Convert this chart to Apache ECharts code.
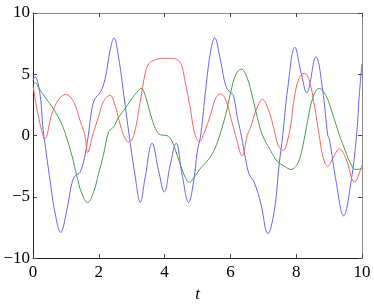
<!DOCTYPE html>
<html>
<head>
<meta charset="utf-8">
<script src="https://cdn.jsdelivr.net/npm/echarts@6/dist/echarts.min.js"></script>
<style>html,body{margin:0;padding:0;background:#fff}#c{width:374px;height:308px}</style>
</head>
<body>
<div id="c"></div>
<script>
var xTicks = [0, 2, 4, 6, 8, 10];
var yTicks = [-10, -5, 0, 5, 10];
var xName = 't';

var tBlue = [0, 0.06, 0.2, 0.31, 0.36, 0.52, 0.67, 0.84, 1.02, 1.18, 1.28, 1.43, 1.58, 1.68, 1.78, 1.88, 2.04, 2.19, 2.34, 2.46, 2.6, 2.76, 2.93, 3.11, 3.26, 3.41, 3.62, 3.82, 3.99, 4.17, 4.35, 4.53, 4.73, 4.89, 4.99, 5.1, 5.25, 5.4, 5.52, 5.7, 5.86, 6.0, 6.09, 6.21, 6.34, 6.46, 6.57, 6.72, 6.92, 7.14, 7.33, 7.48, 7.59, 7.74, 7.96, 8.15, 8.32, 8.6, 8.8, 8.96, 9.01, 9.21, 9.44, 9.67, 9.84, 9.92, 10];
var vBlue = [4.5, 4.8, 3.6, 0.4, -0.6, -3.7, -6.3, -7.9, -6.2, -3.9, -3.3, -3.0, -1.6, 0.0, 2.0, 3.0, 3.5, 4.6, 6.9, 7.97, 6.4, 3.3, -0.1, -3.4, -5.45, -3.4, -0.63, -2.9, -4.6, -2.4, -0.63, -3.15, -5.45, -3.6, -1.35, 0.1, 3.8, 6.9, 7.97, 6.1, 4.05, 3.5, 3.3, 1.5, -0.1, -1.9, -3.15, -3.8, -5.5, -8.0, -6.2, -2.4, 0.0, 3.8, 7.2, 5.1, 3.5, 6.42, 3.8, 0.0, -0.3, -3.7, -6.55, -3.7, 0.2, 3.4, 5.85];

var tRed = [0, 0.11, 0.26, 0.36, 0.57, 0.77, 0.99, 1.23, 1.43, 1.58, 1.66, 1.83, 1.99, 2.14, 2.34, 2.49, 2.62, 2.76, 2.91, 3.06, 3.26, 3.41, 3.52, 3.72, 3.92, 4.1, 4.28, 4.43, 4.53, 4.63, 4.78, 4.91, 5.05, 5.2, 5.4, 5.55, 5.7, 5.86, 6.01, 6.16, 6.36, 6.51, 6.62, 6.77, 6.97, 7.17, 7.33, 7.45, 7.59, 7.79, 7.94, 8.09, 8.25, 8.4, 8.55, 8.7, 8.82, 8.96, 9.11, 9.31, 9.51, 9.77, 10];
var vRed = [4.1, 2.3, 0.45, -0.27, 1.74, 2.9, 3.36, 2.77, 1.22, 0.0, -1.4, 0.2, 1.5, 2.77, 3.28, 2.5, 1.2, 0.0, -0.55, 0.0, 2.77, 5.08, 5.85, 6.19, 6.29, 6.3, 6.29, 6.1, 5.6, 4.3, 2.25, 0.2, -0.5, 0.2, 1.74, 3.03, 3.41, 2.9, 1.48, 0.0, -1.65, 0.0, 0.71, 2.0, 2.95, 2.0, 0.45, -0.8, -1.22, 0.2, 3.03, 4.7, 5.08, 4.44, 2.5, 0.0, -1.8, -2.51, -1.87, -1.1, -1.87, -3.8, -2.4];

var tGreen = [0, 0.08, 0.16, 0.36, 0.57, 0.72, 0.87, 1.0, 1.18, 1.33, 1.48, 1.66, 1.83, 1.99, 2.14, 2.3, 2.45, 2.6, 2.81, 3.01, 3.16, 3.29, 3.41, 3.57, 3.72, 3.87, 4.07, 4.22, 4.38, 4.53, 4.68, 4.75, 4.93, 5.1, 5.3, 5.5, 5.65, 5.86, 6.01, 6.16, 6.33, 6.51, 6.67, 6.82, 6.97, 7.22, 7.43, 7.64, 7.84, 8.05, 8.2, 8.35, 8.5, 8.7, 8.9, 9.11, 9.31, 9.51, 9.67, 9.82, 10];
var vGreen = [4.26, 4.3, 3.93, 3.15, 2.38, 1.74, 0.97, 0.0, -1.6, -3.28, -4.7, -5.47, -4.7, -3.15, -1.6, 0.3, 0.7, 1.48, 2.25, 3.03, 3.54, 3.85, 3.28, 1.74, 0.58, 0.06, 0.0, -0.45, -1.6, -2.77, -3.67, -3.8, -3.28, -2.64, -2.07, -1.22, -0.19, 1.74, 3.54, 4.96, 5.42, 4.7, 3.15, 1.48, 0.06, -1.22, -2.12, -2.5, -2.77, -2.25, -0.84, 1.22, 3.03, 3.85, 3.28, 1.74, 0.06, -1.35, -2.38, -2.77, -2.69];

function zip(t, v) { return t.map(function (x, i) { return [x, v[i]]; }); }
var serif = "'Liberation Serif', 'Times New Roman', serif";
function minus(v) { return String(v).replace('-', '\u2212'); }

var chart = echarts.init(document.getElementById('c'), null, { renderer: 'canvas' });
var tickStyle = { inside: true, length: 4, lineStyle: { color: '#444', width: 1 } };
chart.setOption({
  animation: false,
  textStyle: { fontFamily: serif },
  grid: { left: 33, right: 12, top: 13, bottom: 36, containLabel: false },
  xAxis: [{
    type: 'value', min: xTicks[0], max: xTicks[xTicks.length - 1], interval: 2,
    name: xName, nameLocation: 'middle', nameGap: 23,
    nameTextStyle: { fontFamily: serif, fontStyle: 'italic', fontSize: 17, color: '#000' },
    axisLine: { onZero: false, lineStyle: { color: '#222', width: 1 } },
    axisTick: tickStyle,
    axisLabel: { fontFamily: serif, fontSize: 17, color: '#000', margin: 6, formatter: minus },
    splitLine: { show: false }
  }, {
    type: 'value', position: 'top', min: xTicks[0], max: xTicks[xTicks.length - 1], interval: 2,
    axisLine: { show: true, onZero: false, lineStyle: { color: '#888', width: 1 } },
    axisTick: tickStyle, axisLabel: { show: false }, splitLine: { show: false }
  }],
  yAxis: [{
    type: 'value', min: yTicks[0], max: yTicks[yTicks.length - 1], interval: 5,
    axisLine: { show: true, onZero: false, lineStyle: { color: '#222', width: 1 } },
    axisTick: tickStyle,
    axisLabel: { fontFamily: serif, fontSize: 17, color: '#000', margin: 3, formatter: minus },
    splitLine: { show: false }
  }, {
    type: 'value', position: 'right', min: yTicks[0], max: yTicks[yTicks.length - 1], interval: 5,
    axisLine: { show: true, onZero: false, lineStyle: { color: '#888', width: 1 } },
    axisTick: tickStyle, axisLabel: { show: false }, splitLine: { show: false }
  }],
  series: [
    { type: 'line', data: zip(tBlue, vBlue), smooth: 0.4, showSymbol: false, lineStyle: { color: '#6464ff', width: 1 } },
    { type: 'line', data: zip(tRed, vRed), smooth: 0.4, showSymbol: false, lineStyle: { color: '#ff6060', width: 1 } },
    { type: 'line', data: zip(tGreen, vGreen), smooth: 0.4, showSymbol: false, lineStyle: { color: '#44a044', width: 1 } }
  ]
});
</script>
</body>
</html>
